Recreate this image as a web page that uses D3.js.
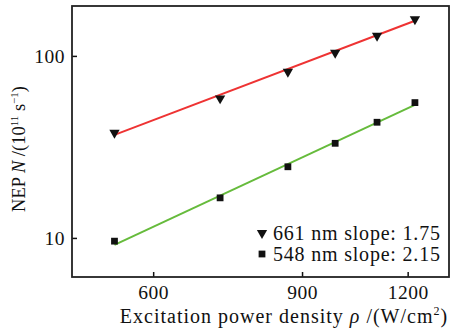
<!DOCTYPE html>
<html>
<head>
<meta charset="utf-8">
<script src="https://cdn.jsdelivr.net/npm/d3@7"></script>
<style>
  body { margin: 0; background: #fff; }
  text { font-family: "Liberation Serif", "DejaVu Serif", serif; fill: #111; }
</style>
</head>
<body>
<div id="chart"></div>
<script>
// excitation power density (W/cm^2)
const power = [540, 720, 866, 985, 1104, 1224];
// NEP, 10^11 s^-1
const nep661 = [37.8, 58.4, 81.9, 104, 129, 159];
const nep548 = [9.6, 16.6, 24.6, 33.1, 43.2, 55.4];
// fitted lines, end points
const fitX = [540, 1224];
const fit661 = [36.8, 156];
const fit548 = [9.15, 53.8];
const xTicks = [600, 900, 1200];
const yTicks = [10, 100];
const legendLabels = ["661 nm slope: 1.75", "548 nm slope: 2.15"];

const W = 450, H = 329;
const margin = { top: 6, right: 1, bottom: 52, left: 72 };
const width = W - margin.left - margin.right;
const height = H - margin.top - margin.bottom;

const svg = d3.select('#chart')
  .append('svg')
  .attr('width', W)
  .attr('height', H);

const g = svg.append('g')
  .attr('transform', `translate(${margin.left},${margin.top})`);

// both axes are log
const x = d3.scaleLog()
  .domain([481, 1343])
  .range([0, width]);

const y = d3.scaleLog()
  .domain([6.1, 188])
  .range([height, 0]);

// X axis
const xAxis = g.append('g')
  .attr('transform', `translate(0,${height})`)
  .call(d3.axisBottom(x).tickValues(xTicks).tickFormat(d3.format('d')).tickSizeInner(-5).tickSizeOuter(0).tickPadding(8));

// Y axis
const yAxis = g.append('g')
  .call(d3.axisLeft(y).tickValues(yTicks).tickFormat(d3.format('d')).tickSizeInner(-5).tickSizeOuter(0).tickPadding(7));

[xAxis, yAxis].forEach(a => {
  a.selectAll('text').style('font-size', '19.5px').style('letter-spacing', '0.5px').attr('fill', '#111');
  a.selectAll('line').attr('stroke', '#111').attr('stroke-width', 1.5);
  a.select('.domain').remove();
});

// frame
g.append('rect')
  .attr('width', width)
  .attr('height', height)
  .attr('fill', 'none')
  .attr('stroke', '#222')
  .attr('stroke-width', 1.8);

// fit lines
const line = d3.line()
  .x(d => x(d[0]))
  .y(d => y(d[1]));

g.append('path')
  .datum(d3.zip(fitX, fit661))
  .attr('d', line)
  .attr('fill', 'none')
  .attr('stroke', '#ee3333')
  .attr('stroke-width', 2);

g.append('path')
  .datum(d3.zip(fitX, fit548))
  .attr('d', line)
  .attr('fill', 'none')
  .attr('stroke', '#66bb3c')
  .attr('stroke-width', 2);

// markers
const tri = d3.symbol().type(d3.symbolTriangle).size(46);
const sq = d3.symbol().type(d3.symbolSquare).size(46);

g.selectAll('.tri')
  .data(d3.zip(power, nep661))
  .enter()
  .append('path')
  .attr('class', 'tri')
  .attr('d', tri)
  .attr('transform', d => `translate(${x(d[0])},${y(d[1])}) rotate(180)`)
  .attr('fill', '#111');

g.selectAll('.sq')
  .data(d3.zip(power, nep548))
  .enter()
  .append('path')
  .attr('class', 'sq')
  .attr('d', sq)
  .attr('transform', d => `translate(${x(d[0])},${y(d[1])})`)
  .attr('fill', '#111');

// legend
const legend = g.append('g')
  .attr('transform', `translate(190, 227)`);

legend.append('path')
  .attr('d', tri)
  .attr('transform', 'translate(0,0) rotate(180)')
  .attr('fill', '#111');
legend.append('path')
  .attr('d', sq)
  .attr('transform', 'translate(0,21)')
  .attr('fill', '#111');

legend.selectAll('.lbl')
  .data(legendLabels)
  .enter()
  .append('text')
  .attr('class', 'lbl')
  .attr('x', 11)
  .attr('y', (d, i) => i * 21 + 7)
  .style('font-size', '20px')
  .style('letter-spacing', '0.8px')
  .text(d => d);

// x title
const xt = svg.append('text')
  .attr('x', 284)
  .attr('y', 323)
  .attr('text-anchor', 'middle')
  .style('font-size', '20px')
  .style('letter-spacing', '1px');
xt.append('tspan').text('Excitation power density ');
xt.append('tspan').attr('font-style', 'italic').text('ρ');
xt.append('tspan').text(' /(W/cm');
xt.append('tspan').attr('dy', -8).style('font-size', '12px').text('2');
xt.append('tspan').attr('dy', 8).text(')');

// y title
const yt = svg.append('text')
  .attr('transform', 'translate(25,149) rotate(-90)')
  .attr('text-anchor', 'middle')
  .style('font-size', '18.5px');
yt.append('tspan').text('NEP ');
yt.append('tspan').attr('font-style', 'italic').text('N');
yt.append('tspan').text(' /(10');
yt.append('tspan').attr('dy', -7).style('font-size', '11px').text('11');
yt.append('tspan').attr('dy', 7).text(' s');
yt.append('tspan').attr('dy', -7).style('font-size', '11px').text('−1');
yt.append('tspan').attr('dy', 7).text(')');
</script>
</body>
</html>
